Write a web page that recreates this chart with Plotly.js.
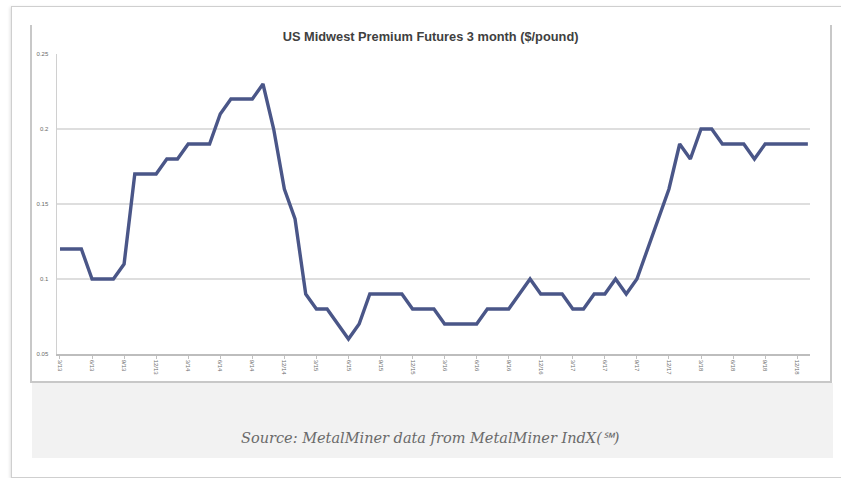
<!DOCTYPE html>
<html>
<head>
<meta charset="utf-8">
<script src="https://cdn.plot.ly/plotly-3.0.1.min.js"></script>
<style>
  html, body { margin: 0; padding: 0; background: #ffffff; width: 841px; height: 478px; overflow: hidden; }
  #outer { position: absolute; left: 11px; top: 6px; width: 840px; height: 470px; border: 1px solid #cfcfcf; border-right: none; box-shadow: -1px 1px 3px rgba(0,0,0,0.12); background: #fff; }
  #lineL { position: absolute; left: 30px; top: 25px; width: 2px; height: 357px; background: #c8c8c8; }
  #lineR { position: absolute; left: 830px; top: 25px; width: 2px; height: 357px; background: #c8c8c8; }
  #lineB { position: absolute; left: 30px; top: 381px; width: 802px; height: 2px; background: #c8c8c8; }
  #band { position: absolute; left: 32px; top: 383px; width: 801px; height: 75px; background: #f2f2f2; }
  #chart { position: absolute; left: 0; top: 0; width: 841px; height: 478px; }
</style>
</head>
<body>
<div id="outer"></div>
<div id="lineL"></div>
<div id="lineR"></div>
<div id="lineB"></div>
<div id="band"></div>
<div id="chart"></div>
<script>
// Series values ($/pound), one per period
const premium = [
  0.12, 0.12, 0.12, 0.10, 0.10, 0.10, 0.11, 0.17, 0.17, 0.17,
  0.18, 0.18, 0.19, 0.19, 0.19, 0.21, 0.22, 0.22, 0.22, 0.23,
  0.20, 0.16, 0.14, 0.09, 0.08, 0.08, 0.07, 0.06, 0.07, 0.09,
  0.09, 0.09, 0.09, 0.08, 0.08, 0.08, 0.07, 0.07, 0.07, 0.07,
  0.08, 0.08, 0.08, 0.09, 0.10, 0.09, 0.09, 0.09, 0.08, 0.08,
  0.09, 0.09, 0.10, 0.09, 0.10, 0.12, 0.14, 0.16, 0.19, 0.18,
  0.20, 0.20, 0.19, 0.19, 0.19, 0.18, 0.19, 0.19, 0.19, 0.19,
  0.19
];
// Category tick labels (every third period)
const tickLabels = [
  "3/13", "6/13", "9/13", "12/13",
  "3/14", "6/14", "9/14", "12/14",
  "3/15", "6/15", "9/15", "12/15",
  "3/16", "6/16", "9/16", "12/16",
  "3/17", "6/17", "9/17", "12/17",
  "3/18", "6/18", "9/18", "12/18"
];
const yTickVals = [0.05, 0.1, 0.15, 0.2, 0.25];
const yTickText = ["0.05", "0.1", "0.15", "0.2", "0.25"];
const titleText = "US Midwest Premium Futures 3 month ($/pound)";
const sourceText = "Source: MetalMiner data from MetalMiner IndX(\u2120)";

const xIdx = premium.map((_, i) => i);
const tickStep = 3;
const xTickVals = tickLabels.map((_, k) => k * tickStep);

const trace = {
  x: xIdx,
  y: premium,
  type: 'scatter',
  mode: 'lines',
  line: { color: '#4a5688', width: 3.4 },
  hoverinfo: 'skip'
};

const layout = {
  width: 841,
  height: 478,
  margin: { l: 57, r: 31, t: 54, b: 124, pad: 0 },
  paper_bgcolor: 'rgba(0,0,0,0)',
  plot_bgcolor: 'rgba(0,0,0,0)',
  showlegend: false,
  title: {
    text: '<b>' + titleText + '</b>',
    font: { family: 'Liberation Sans, Arial, sans-serif', size: 12.8, color: '#404040' },
    x: 0.512, xanchor: 'center',
    y: 1 - 37 / 478, yanchor: 'middle', yref: 'container'
  },
  xaxis: {
    range: [-0.28, 70.2],
    tickmode: 'array',
    tickvals: xTickVals,
    ticktext: tickLabels,
    tickangle: 90,
    tickfont: { family: 'Liberation Sans, Arial, sans-serif', size: 6, color: '#6a6a6a' },
    ticks: 'outside', ticklen: 3, tickcolor: '#c0c0c0',
    showgrid: false,
    zeroline: false,
    showline: true, linecolor: '#bdbdbd', linewidth: 1.5,
    fixedrange: true
  },
  yaxis: {
    range: [0.05, 0.25],
    tickmode: 'array',
    tickvals: yTickVals,
    ticktext: yTickText,
    tickfont: { family: 'Liberation Sans, Arial, sans-serif', size: 6, color: '#6a6a6a' },
    ticks: '', ticklabelstandoff: 6,
    showgrid: true, gridcolor: '#dedede', gridwidth: 1.5,
    zeroline: false,
    showline: true, linecolor: '#d0d0d0', linewidth: 1.5,
    fixedrange: true
  },
  annotations: [{
    text: sourceText,
    xref: 'paper', yref: 'paper',
    x: (430 - 57) / (841 - 57 - 31),
    y: -(438 - 354) / (354 - 54),
    xanchor: 'center', yanchor: 'middle',
    showarrow: false,
    font: { family: 'DejaVu Serif, Liberation Serif, serif', size: 14.5, color: '#6a6a6a', style: 'italic' }
  }]
};

Plotly.newPlot('chart', [trace], layout, { staticPlot: true, displayModeBar: false });
</script>
</body>
</html>
